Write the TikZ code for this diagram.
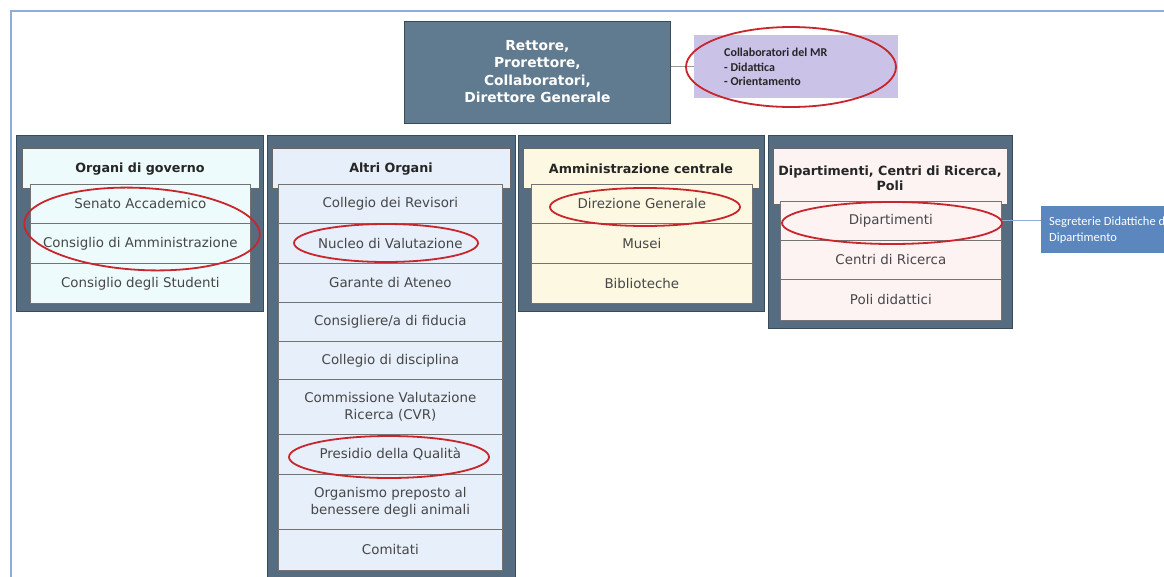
\documentclass[tikz,border=0pt]{standalone}
\usepackage{fontspec}
\setmainfont{DejaVu Sans}
\newfontfamily\carl{Carlito}
\definecolor{framec}{HTML}{566C80}
\definecolor{framedk}{HTML}{3A4B5A}
\definecolor{rtfill}{HTML}{607A8F}
\definecolor{cA}{HTML}{EEFBFC}
\definecolor{cB}{HTML}{E6EFFA}
\definecolor{cC}{HTML}{FDF8E2}
\definecolor{cD}{HTML}{FDF3F3}
\definecolor{lavc}{HTML}{CAC2E7}
\definecolor{segc}{HTML}{5B86BE}
\definecolor{ringred}{HTML}{C8262C}
\definecolor{edgeblue}{HTML}{8EAED8}
\begin{document}
\begin{tikzpicture}[x=1pt,y=-1pt,
  frame/.style={draw=framedk, fill=framec, line width=0.8pt, anchor=north west, inner sep=0pt},
  head/.style={draw=black!60, line width=0.7pt, anchor=north west, inner sep=0pt},
  headtxt/.style={font=\bfseries\fontsize{12.7}{15}\selectfont, text=black!85, align=center, inner sep=0pt},
  itm/.style={draw=black!55, line width=0.7pt, anchor=north west, inner sep=0pt, align=center,
              font=\fontsize{13.4}{17}\selectfont, text=black!72},
  ring/.style={draw=ringred, line width=1.8pt},
  conn/.style={line width=1.2pt}]
\useasboundingbox (0,0) rectangle (1164,576);
\fill[white] (0,0) rectangle (1164,576);
\draw[edgeblue, line width=2.5pt] (11,580) -- (11,11) -- (1170,11);

% top box
\node[draw=framedk, fill=rtfill, line width=0.8pt, anchor=north west, minimum width=266pt, minimum height=102pt,
      inner sep=0pt] (rt) at (404,21) {};
\node[text=white, font=\bfseries\fontsize{13.8}{17.5}\selectfont, align=center] (rtt) at ([yshift=1pt]rt.center)
  {Rettore,\\Prorettore,\\Collaboratori,\\Direttore Generale};
\node[fill=lavc, anchor=north west, minimum width=204pt, minimum height=63pt, inner sep=0pt] (lav) at (694,35) {};
\node[anchor=west, align=left, font=\carl\bfseries\fontsize{12}{14.5}\selectfont, text=black!85, inner sep=0pt] (lavt)
  at (724,67) {Collaboratori del MR\\- Didattica\\- Orientamento};
\draw[conn, black!40] (rt.east |- lav.west) -- (lav.west);

% frames
\node[frame, minimum width=247pt, minimum height=176pt] (f1) at (16,135) {};
\node[frame, minimum width=248pt, minimum height=460pt] (f2) at (267,135) {};
\node[frame, minimum width=246pt, minimum height=176pt] (f3) at (518,135) {};
\node[frame, minimum width=244pt, minimum height=193pt] (f4) at (768,135) {};

% headers
\node[head, fill=cA, minimum width=237pt, minimum height=40pt] (h1) at (22,148) {};
\node[head, fill=cB, minimum width=238pt, minimum height=40pt] (h2) at (272,148) {};
\node[head, fill=cC, minimum width=236pt, minimum height=40pt] (h3) at (523,148) {};
\node[head, fill=cD, minimum width=234pt, minimum height=56pt] (h4) at (773,148) {};
\node[headtxt] (h1t) at (140,169) {Organi di governo};
\node[headtxt] (h2t) at (391,169) {Altri Organi};
\node[headtxt] (h3t) at (641,169) {Amministrazione centrale};
\node[headtxt] (h4t) at (890,178) {Dipartimenti, Centri di Ricerca,\\Poli};

% column 1
\node[itm, fill=cA, minimum width=220pt, minimum height=39pt] (a1) at (30,184) {Senato Accademico};
\node[itm, fill=cA, minimum width=220pt, minimum height=40pt] (a2) at (30,223) {Consiglio di Amministrazione};
\node[itm, fill=cA, minimum width=220pt, minimum height=40pt] (a3) at (30,263) {Consiglio degli Studenti};

% column 2
\node[itm, fill=cB, minimum width=224pt, minimum height=39pt] (b1) at (278,184) {Collegio dei Revisori};
\node[itm, fill=cB, minimum width=224pt, minimum height=40pt] (b2) at (278,223) {Nucleo di Valutazione};
\node[itm, fill=cB, minimum width=224pt, minimum height=39pt] (b3) at (278,263) {Garante di Ateneo};
\node[itm, fill=cB, minimum width=224pt, minimum height=39pt] (b4) at (278,302) {Consigliere/a di fiducia};
\node[itm, fill=cB, minimum width=224pt, minimum height=38pt] (b5) at (278,341) {Collegio di disciplina};
\node[itm, fill=cB, minimum width=224pt, minimum height=55pt] (b6) at (278,379) {Commissione Valutazione\\Ricerca (CVR)};
\node[itm, fill=cB, minimum width=224pt, minimum height=40pt] (b7) at (278,434) {Presidio della Qualità};
\node[itm, fill=cB, minimum width=224pt, minimum height=55pt] (b8) at (278,474) {Organismo preposto al\\benessere degli animali};
\node[itm, fill=cB, minimum width=224pt, minimum height=41pt] (b9) at (278,529) {Comitati};

% column 3
\node[itm, fill=cC, minimum width=221pt, minimum height=39pt] (c1) at (531,184) {Direzione Generale};
\node[itm, fill=cC, minimum width=221pt, minimum height=40pt] (c2) at (531,223) {Musei};
\node[itm, fill=cC, minimum width=221pt, minimum height=40pt] (c3) at (531,263) {Biblioteche};

% column 4
\node[itm, fill=cD, minimum width=221pt, minimum height=39pt] (d1) at (780,201) {Dipartimenti};
\node[itm, fill=cD, minimum width=221pt, minimum height=39pt] (d2) at (780,240) {Centri di Ricerca};
\node[itm, fill=cD, minimum width=221pt, minimum height=41pt] (d3) at (780,279) {Poli didattici};

% segreterie
\node[fill=segc, anchor=north west, minimum width=200pt, minimum height=47pt, inner sep=0pt] (seg) at (1041,206) {};
\node[anchor=west, align=left, text=white, font=\carl\fontsize{12.5}{16}\selectfont, inner sep=0pt] (segt)
  at (1049,230) {Segreterie Didattiche di\\Dipartimento};
\draw[conn, edgeblue] (d1.east) -- (d1.east -| seg.west);

% red rings
\draw[ring] (142,229) ellipse [x radius=118pt, y radius=41pt, rotate=-3];
\draw[ring] (386,243) ellipse [x radius=92pt, y radius=19pt];
\draw[ring] (389,457) ellipse [x radius=100pt, y radius=21pt];
\draw[ring] (645,207) ellipse [x radius=95pt, y radius=19pt];
\draw[ring] (892,223) ellipse [x radius=110pt, y radius=21pt];
\draw[ring] (791,67) ellipse [x radius=105pt, y radius=40pt];
\end{tikzpicture}
\end{document}
